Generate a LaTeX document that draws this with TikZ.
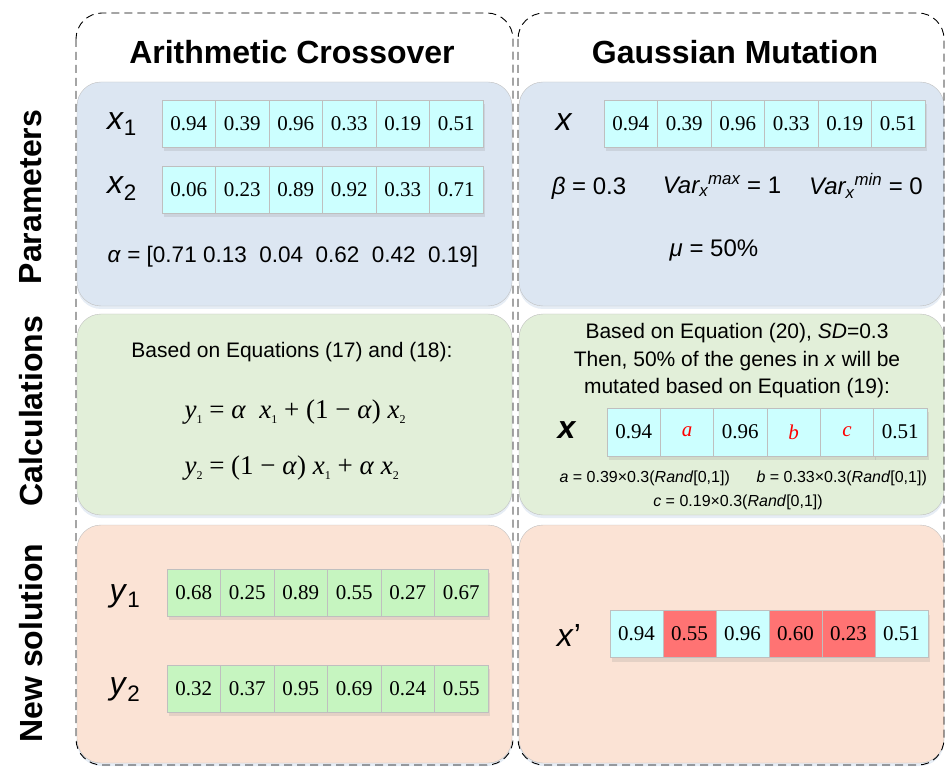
\documentclass[tikz,border=0pt]{standalone}
\usepackage{fontspec}
\setmainfont{Liberation Serif}
\setsansfont{Liberation Sans}
\usepackage{tikz}
\usetikzlibrary{
  positioning,
  shadows,
  calc
}
\definecolor{gaBlue}{HTML}{DCE6F2}
\definecolor{gaGreen}{HTML}{E2EFD9}
\definecolor{gaPeach}{HTML}{FBE3D5}
\definecolor{gaCyan}{HTML}{CCFFFF}
\definecolor{gaLeaf}{HTML}{C6F5C0}
\definecolor{gaHot}{HTML}{FF7373}
\definecolor{gaRule}{HTML}{BFBFBF}
\definecolor{gaRed}{HTML}{FF0000}
\definecolor{gaGlow}{HTML}{9DB6D8}
\newcommand{\fsz}[1]{\fontsize{#1}{#1}\selectfont}
\newcommand{\eqsub}[1]{\raisebox{-5pt}{\fsz{12}#1}}
\tikzset{
  column/.style={draw, dash pattern=on 8pt off 5pt, line width=0.9pt, rounded corners=26pt},
  panel/.style={draw=gaRule, rounded corners=24pt, thin,
    drop shadow={shadow xshift=0pt, shadow yshift=-3pt, opacity=0.25, fill=gaGlow}},
  coltitle/.style={font=\sffamily\bfseries\fsz{32}},
  rowname/.style={font=\sffamily\bfseries\fsz{32}, rotate=90},
  cell/.style={
    draw=gaRule, fill=gaCyan, minimum width=53.5pt, minimum height=47pt,
    inner sep=0pt, font=\rmfamily\fsz{21},
    drop shadow={opacity=0.18, shadow xshift=2pt, shadow yshift=-4pt}
  },
  newcell/.style={cell, fill=gaLeaf},
  hotcell/.style={cell, fill=gaHot},
  varname/.style={font=\sffamily\fsz{32}},
  param/.style={font=\sffamily\fsz{24}},
  txt/.style={font=\sffamily\fontsize{21}{27.5}\selectfont, align=center},
  eqn/.style={font=\rmfamily\fsz{27}, anchor=west},
  note/.style={font=\sffamily\fsz{16}}
}

\begin{document}
\begin{tikzpicture}[x=1pt, y=-1pt]
  \useasboundingbox (0,0) rectangle (945,767);

  % panels
  \draw[panel, fill=gaBlue] (77,82) rectangle (512,306);
  \draw[panel, fill=gaGreen] (77,314) rectangle (512,515);
  \draw[panel, fill=gaPeach] (77,525) rectangle (512,763);
  \draw[panel, fill=gaBlue] (519,82) rectangle (944,306);
  \draw[panel, fill=gaGreen] (519,314) rectangle (944,515);
  \draw[panel, fill=gaPeach] (519,525) rectangle (944,763);

  % dashed columns
  \draw[column] (76,13) rectangle (513,765);
  \draw[column] (518,13) rectangle (944,765);

  \node[coltitle] (arith) at (292,52) {Arithmetic Crossover};
  \node[coltitle] (gauss) at (735,52) {Gaussian Mutation};

  \node[rowname] (params) at (31,197) {Parameters};
  \node[rowname] (calcs) at (31,411) {Calculations};
  \node[rowname] (newsol) at (31,643) {New solution};

  % arithmetic crossover
  \node[varname] (lxa) at (122,124) {\textit{x}\textsubscript{1}};
  \node[varname] (lxb) at (122,189) {\textit{x}\textsubscript{2}};
  \foreach \v [count=\i] in {0.94,0.39,0.96,0.33,0.19,0.51}
    \node[cell] (xa\i) at ({188.75+53.5*(\i-1)},124) {\v};
  \foreach \v [count=\i] in {0.06,0.23,0.89,0.92,0.33,0.71}
    \node[cell] (xb\i) at ({188.75+53.5*(\i-1)},189.5) {\v};
  \node[param, font=\sffamily\fsz{22.5}] (alpha) at (293,257)
    {\textit{α} = [0.71\ 0.13\ \ 0.04\ \ 0.62\ \ 0.42\ \ 0.19]};

  \node[txt] (basedl) at (292,352) {Based on Equations (17) and (18):};
  \node[eqn] (eqa) at (181,412)
    {\textit{y}\eqsub{1} = \textit{α}\ \ \textit{x}\eqsub{1} + (1 − \textit{α}) \textit{x}\eqsub{2}};
  \node[eqn] (eqb) at (181,468)
    {\textit{y}\eqsub{2} = (1 − \textit{α}) \textit{x}\eqsub{1} + \textit{α} \textit{x}\eqsub{2}};

  \node[varname] (lya) at (125,596) {\textit{y}\textsubscript{1}};
  \node[varname] (lyb) at (125,690) {\textit{y}\textsubscript{2}};
  \foreach \v [count=\i] in {0.68,0.25,0.89,0.55,0.27,0.67}
    \node[newcell] (ya\i) at ({193.75+53.5*(\i-1)},592.5) {\v};
  \foreach \v [count=\i] in {0.32,0.37,0.95,0.69,0.24,0.55}
    \node[newcell] (yb\i) at ({193.75+53.5*(\i-1)},688.5) {\v};

  % gaussian mutation
  \node[varname] (lx) at (564,122) {\textit{x}};
  \foreach \v [count=\i] in {0.94,0.39,0.96,0.33,0.19,0.51}
    \node[cell] (xg\i) at ({630.75+53.5*(\i-1)},124) {\v};
  \node[param] (beta) at (589,188) {\textit{β} = 0.3};
  \node[param] (vmax) at (722,186)
    {\textit{Var\textsubscript{x}\textsuperscript{max}} = 1};
  \node[param] (vmin) at (866,186)
    {\textit{Var\textsubscript{x}\textsuperscript{min}} = 0};
  \node[param] (mu) at (714,250) {\textit{μ} = 50\%};

  \node[txt] (basedr) at (737,361)
    {Based on Equation (20), \textit{SD}=0.3\\
     Then, 50\% of the genes in \textit{x} will be\\
     mutated based on Equation (19):};
  \node[varname, font=\sffamily\bfseries\fsz{32}] (lxm) at (567,430) {\textit{x}};
  \foreach \v [count=\i] in {0.94,\textcolor{gaRed}{\textit{a}},0.96,
      \textcolor{gaRed}{\textit{b}},\textcolor{gaRed}{\textit{c}},0.51}
    \node[cell, minimum height=48pt] (xm\i) at ({633.7+53.3*(\i-1)},432) {\v};
  \node[note, anchor=west] (defa) at (556,478)
    {\textit{a} = 0.39×0.3(\textit{Rand}[0,1])};
  \node[note, anchor=west] (defb) at (753,478)
    {\textit{b} = 0.33×0.3(\textit{Rand}[0,1])};
  \node[note] (defc) at (738,502) {\textit{c} = 0.19×0.3(\textit{Rand}[0,1])};

  \node[varname] (lxn) at (569,635) {\textit{x}’};
  \foreach \v/\s [count=\i] in {0.94/cell,0.55/hotcell,0.96/cell,
      0.60/hotcell,0.23/hotcell,0.51/cell}
    \node[\s, minimum width=53pt] (xn\i) at ({636.5+53*(\i-1)},634) {\v};
\end{tikzpicture}
\end{document}
